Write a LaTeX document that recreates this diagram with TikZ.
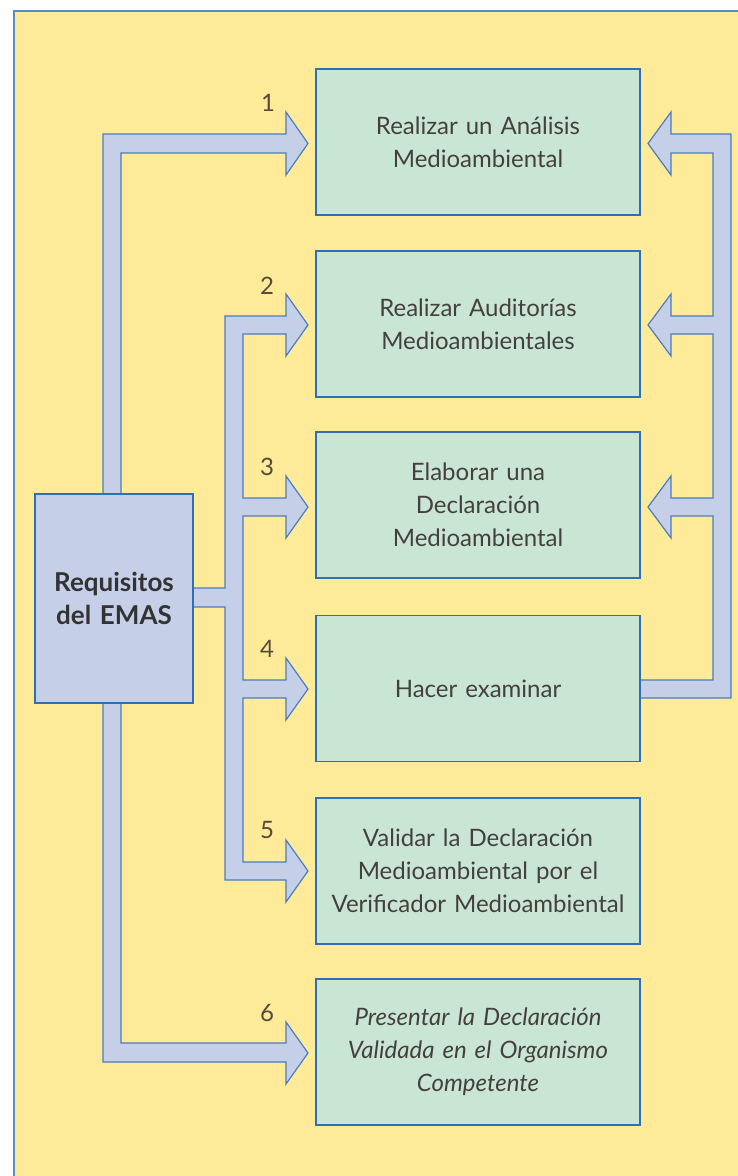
\documentclass[tikz,border=0pt]{standalone}
\usepackage{fontspec}
\setmainfont{Lato}
\definecolor{bgyellow}{HTML}{FDEB99}
\definecolor{boxgreen}{HTML}{C9E6D5}
\definecolor{arrblue}{HTML}{C5D0E8}
\definecolor{edgeblue}{HTML}{2F6FB6}
\definecolor{arredge}{HTML}{4C7DBF}
\definecolor{txt}{HTML}{45403F}
\definecolor{numc}{HTML}{5A4838}
\tikzset{
  stepbox/.style={draw=edgeblue, line width=1.8pt, fill=boxgreen, minimum width=324pt, minimum height=146pt,
    text width=316pt, align=center, inner sep=0pt, text=txt, font=\fontsize{24}{33}\selectfont},
  reqbox/.style={draw=edgeblue, line width=1.8pt, fill=arrblue, minimum width=158pt, minimum height=209pt,
    text width=154pt, align=center, inner sep=0pt, text=black!80, font=\fontsize{26}{33}\selectfont\bfseries},
  bigarrow/.style={fill=arrblue, draw=arredge, line width=1.2pt, line join=miter},
  numlbl/.style={text=numc, font=\fontsize{24}{26}\selectfont, inner sep=0pt}
}
\begin{document}
\begin{tikzpicture}[x=1pt,y=-1pt]
\useasboundingbox (0,0) rectangle (738,1176);
\fill[white] (0,0) rectangle (738,1176);
\draw[fill=bgyellow, draw=edgeblue!80, line width=1.5pt] (14,11) rectangle (760,1200);

% connectors (block arrows)
\draw[bigarrow] (103,494) -- (103,134) -- (286,134) -- (286,112) -- (308,143.5) -- (286,175) -- (286,153) -- (121,153) -- (121,494) -- cycle;
\draw[bigarrow] (103,703) -- (103,1062) -- (286,1062) -- (286,1084) -- (308,1053) -- (286,1022) -- (286,1043) -- (121,1043) -- (121,703) -- cycle;
\draw[bigarrow] (225,316) -- (286,316) -- (286,294) -- (308,325) -- (286,356) -- (286,334) -- (243,334)
  -- (243,498) -- (286,498) -- (286,476) -- (308,507) -- (286,538) -- (286,516) -- (243,516)
  -- (243,680) -- (286,680) -- (286,658) -- (308,689) -- (286,720) -- (286,698) -- (243,698)
  -- (243,862) -- (286,862) -- (286,840) -- (308,871) -- (286,902) -- (286,880) -- (225,880)
  -- (225,607) -- (193,607) -- (193,588) -- (225,588) -- cycle;
\draw[bigarrow] (640,698) -- (731,698) -- (731,134) -- (671,134) -- (671,112) -- (648,143.5) -- (671,175) -- (671,153) -- (713,153)
  -- (713,316) -- (671,316) -- (671,294) -- (648,325) -- (671,356) -- (671,334) -- (713,334)
  -- (713,498) -- (671,498) -- (671,476) -- (648,507) -- (671,538) -- (671,516) -- (713,516)
  -- (713,680) -- (640,680) -- cycle;

% nodes
\node[reqbox] (req) at (114,598.5) {Requisitos\\del EMAS};
\node[stepbox] (s1) at (478,142) {Realizar un Análisis\\Medioambiental};
\node[stepbox] (s2) at (478,324) {Realizar Auditorías\\Medioambientales};
\node[stepbox] (s3) at (478,505) {Elaborar una\\Declaración\\Medioambiental};
\node[stepbox] (s4) at (478,688.5) {Hacer examinar};
\node[stepbox] (s5) at (478,871) {Validar la Declaración\\Medioambiental por el\\Verificador Medioambiental};
\node[stepbox] (s6) at (478,1052) {\itshape Presentar la Declaración\\Validada en el Organismo\\Competente};

% numbers
\node[numlbl] (n1) at (268,103) {1};
\node[numlbl] (n2) at (267,286) {2};
\node[numlbl] (n3) at (267,467) {3};
\node[numlbl] (n4) at (267,649) {4};
\node[numlbl] (n5) at (267,830) {5};
\node[numlbl] (n6) at (267,1013) {6};
\end{tikzpicture}
\end{document}
